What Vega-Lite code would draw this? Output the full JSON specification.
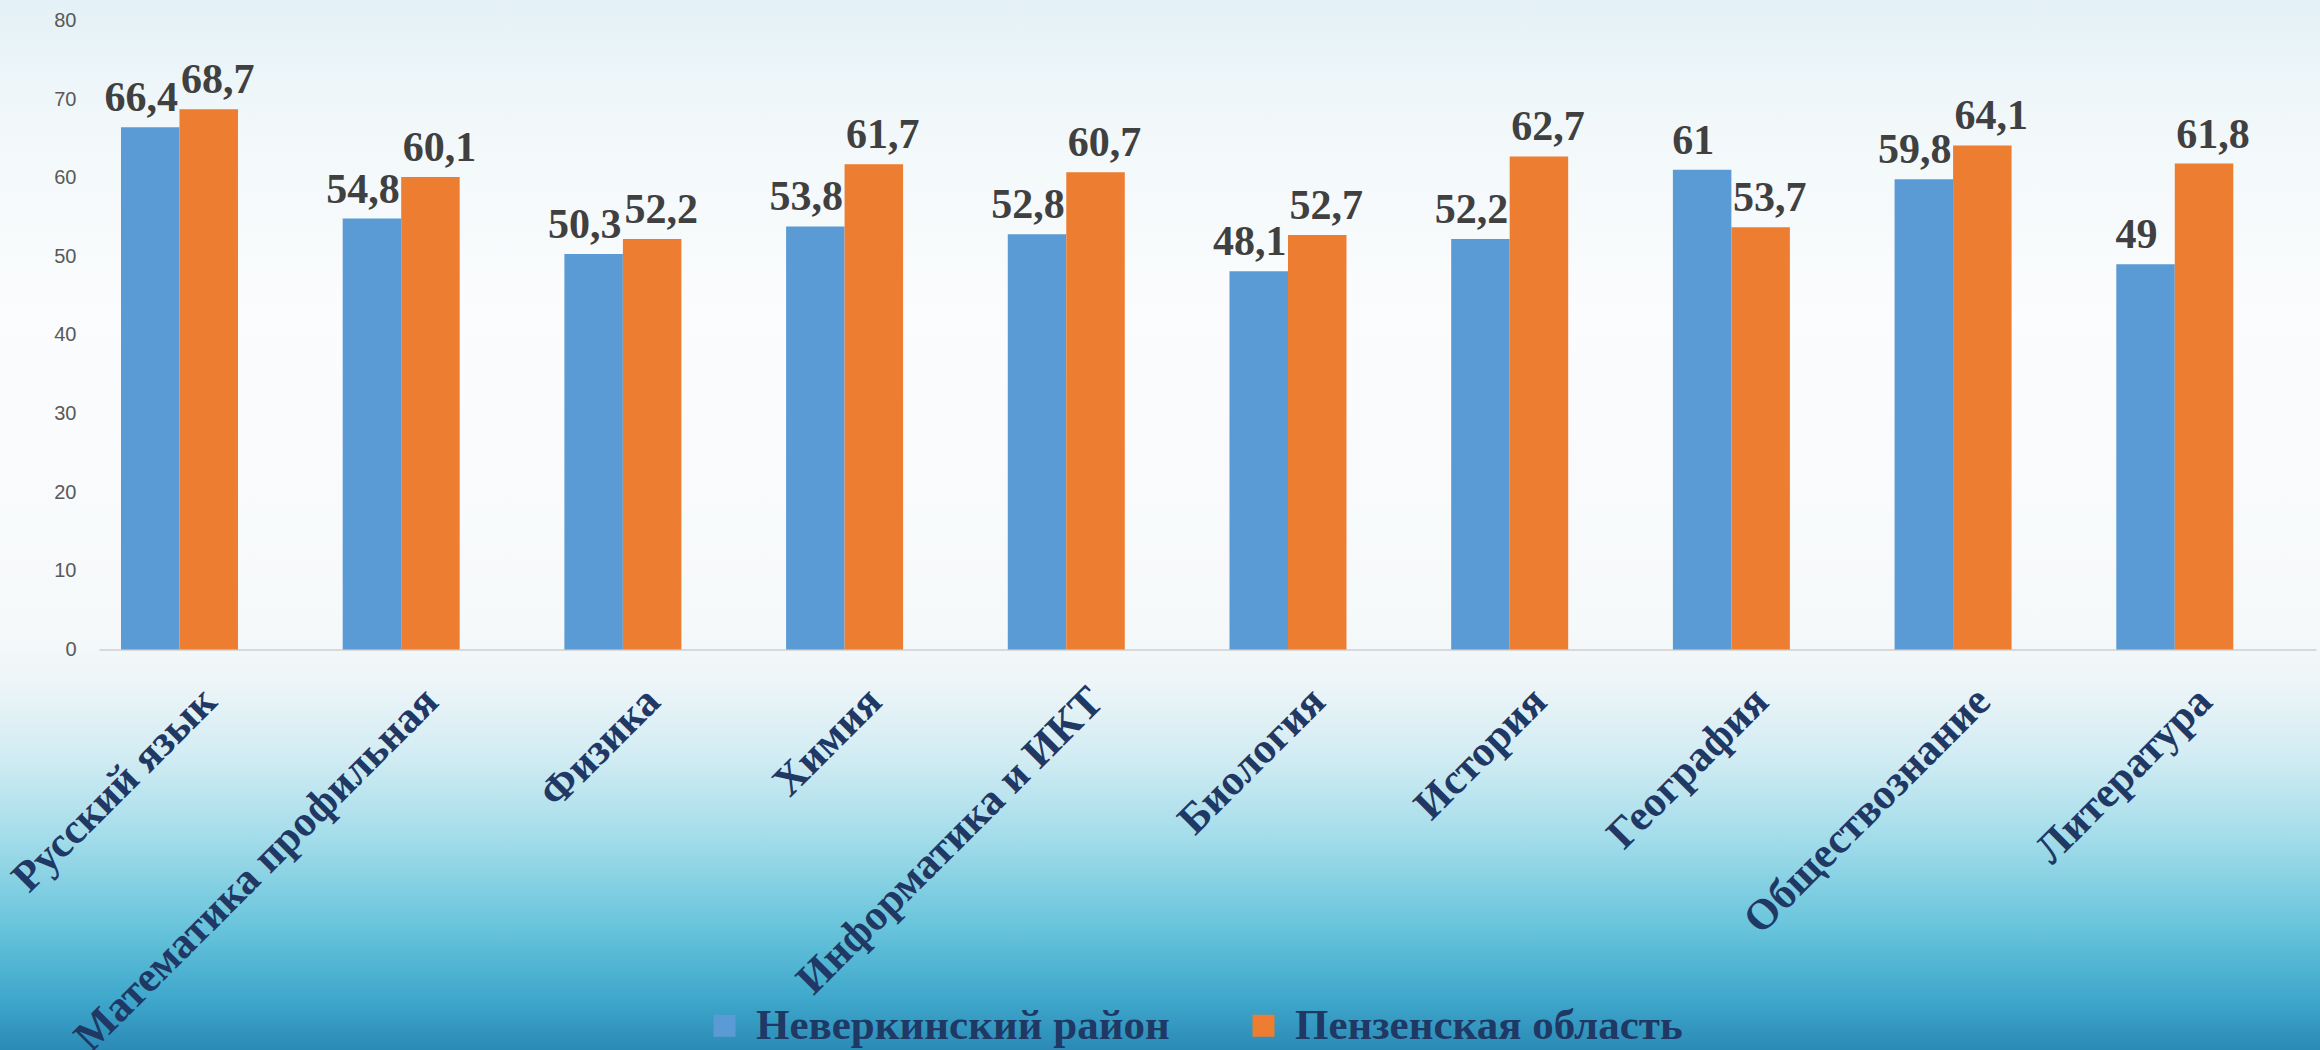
{
  "$schema": "https://vega.github.io/schema/vega-lite/v6.json",
  "width": 2320,
  "height": 1050,
  "autosize": {"type": "none"},
  "padding": 0,
  "background": "#FFFFFF",
  "config": {
    "view": {
      "stroke": null,
      "fill": {
        "gradient": "linear",
        "x1": 0, "y1": 0, "x2": 0, "y2": 1,
        "stops": [
          {"offset": 0, "color": "#E4F1F6"},
          {"offset": 0.12, "color": "#F2F8FA"},
          {"offset": 0.3, "color": "#FBFCFD"},
          {"offset": 0.6, "color": "#F6F9FA"},
          {"offset": 0.65, "color": "#EDF5F8"},
          {"offset": 0.72, "color": "#D2ECF3"},
          {"offset": 0.8, "color": "#A2DCEA"},
          {"offset": 0.88, "color": "#6AC5DC"},
          {"offset": 0.95, "color": "#3FA8CC"},
          {"offset": 1, "color": "#2B8AB6"}
        ]
      }
    },
    "locale": {
      "number": {"decimal": ",", "thousands": " ", "grouping": [3], "currency": ["", ""]}
    }
  },
  "data": {
    "values": [
      {"subject": "Русский язык", "series": "Неверкинский район", "value": 66.4},
      {"subject": "Русский язык", "series": "Пензенская область", "value": 68.7},
      {"subject": "Математика профильная", "series": "Неверкинский район", "value": 54.8},
      {"subject": "Математика профильная", "series": "Пензенская область", "value": 60.1},
      {"subject": "Физика", "series": "Неверкинский район", "value": 50.3},
      {"subject": "Физика", "series": "Пензенская область", "value": 52.2},
      {"subject": "Химия", "series": "Неверкинский район", "value": 53.8},
      {"subject": "Химия", "series": "Пензенская область", "value": 61.7},
      {"subject": "Информатика и ИКТ", "series": "Неверкинский район", "value": 52.8},
      {"subject": "Информатика и ИКТ", "series": "Пензенская область", "value": 60.7},
      {"subject": "Биология", "series": "Неверкинский район", "value": 48.1},
      {"subject": "Биология", "series": "Пензенская область", "value": 52.7},
      {"subject": "История", "series": "Неверкинский район", "value": 52.2},
      {"subject": "История", "series": "Пензенская область", "value": 62.7},
      {"subject": "География", "series": "Неверкинский район", "value": 61},
      {"subject": "География", "series": "Пензенская область", "value": 53.7},
      {"subject": "Обществознание", "series": "Неверкинский район", "value": 59.8},
      {"subject": "Обществознание", "series": "Пензенская область", "value": 64.1},
      {"subject": "Литература", "series": "Неверкинский район", "value": 49},
      {"subject": "Литература", "series": "Пензенская область", "value": 61.8}
    ]
  },
  "encoding": {
    "x": {
      "field": "subject",
      "type": "nominal",
      "sort": null,
      "scale": {"range": [99, 2316], "paddingInner": 0, "paddingOuter": 0},
      "axis": {
        "title": null,
        "offset": -400.5,
        "labelAngle": -45,
        "labelAlign": "right",
        "labelBaseline": "alphabetic",
        "labelFont": "Liberation Serif",
        "labelFontWeight": "bold",
        "labelFontSize": 43,
        "labelColor": "#1F3864",
        "labelPadding": 54,
        "labelOffset": 9,
        "ticks": false,
        "tickSize": 0,
        "domainColor": "#D9D9D9",
        "domainWidth": 2,
        "labelLimit": 0,
        "labelOverlap": false,
        "labelBound": false,
        "labelFlush": false,
        "grid": false
      }
    },
    "xOffset": {
      "field": "series",
      "type": "nominal",
      "sort": null,
      "scale": {"paddingInner": 0, "paddingOuter": 0.895, "align": 0.21}
    },
    "y": {
      "field": "value",
      "type": "quantitative",
      "scale": {"domain": [0, 80], "range": [649.5, 20.4], "nice": false, "zero": true},
      "axis": {
        "title": null,
        "offset": -99,
        "values": [0, 10, 20, 30, 40, 50, 60, 70, 80],
        "ticks": false,
        "tickSize": 0,
        "domain": false,
        "grid": false,
        "labelPadding": 23,
        "labelFont": "Liberation Sans",
        "labelFontSize": 20,
        "labelColor": "#595959",
        "labelFontWeight": "normal"
      }
    }
  },
  "layer": [
    {
      "mark": {"type": "bar"},
      "encoding": {
        "color": {
          "field": "series",
          "type": "nominal",
          "sort": null,
          "scale": {
            "domain": ["Неверкинский район", "Пензенская область"],
            "range": ["#5B9BD5", "#ED7D31"]
          },
          "legend": {
            "title": null,
            "orient": "none",
            "legendX": 703,
            "legendY": 1004,
            "direction": "horizontal",
            "symbolType": "square",
            "symbolSize": 484,
            "symbolStrokeWidth": 0,
            "symbolOpacity": 1,
            "labelFont": "Liberation Serif",
            "labelFontWeight": "bold",
            "labelFontSize": 43,
            "labelColor": "#1F3864",
            "labelOffset": 10,
            "columnPadding": 72,
            "labelLimit": 0,
            "padding": 0
          }
        }
      }
    },
    {
      "transform": [{"filter": "datum.series === 'Неверкинский район'"}],
      "mark": {
        "type": "text",
        "dy": -16,
        "dx": -9,
        "baseline": "alphabetic",
        "align": "center",
        "font": "Liberation Serif",
        "fontWeight": "bold",
        "fontSize": 42,
        "color": "#404040"
      },
      "encoding": {
        "text": {"field": "value", "type": "quantitative", "format": ".3~g"}
      }
    },
    {
      "transform": [{"filter": "datum.series === 'Пензенская область'"}],
      "mark": {
        "type": "text",
        "dy": -16,
        "dx": 9,
        "baseline": "alphabetic",
        "align": "center",
        "font": "Liberation Serif",
        "fontWeight": "bold",
        "fontSize": 42,
        "color": "#404040"
      },
      "encoding": {
        "text": {"field": "value", "type": "quantitative", "format": ".3~g"}
      }
    }
  ]
}
